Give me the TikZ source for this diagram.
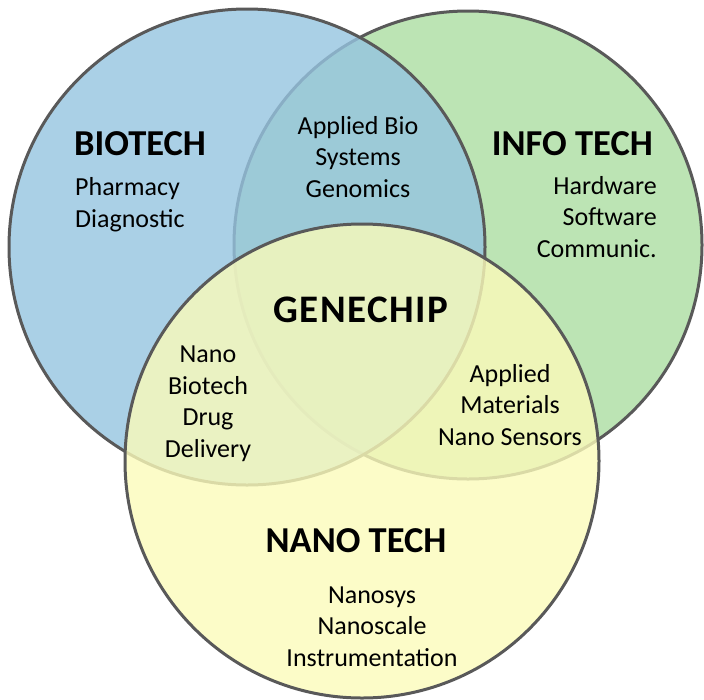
\documentclass[tikz,border=0pt]{standalone}
\usepackage{fontspec}
\setmainfont{Carlito}
\usepackage{xcolor}

\definecolor{ringgray}{RGB}{89,89,89}
\definecolor{biofill}{RGB}{149,196,224}
\definecolor{infofill}{RGB}{171,221,161}
\definecolor{nanofill}{RGB}{251,251,186}

\tikzset{
  venn/.style={draw=ringgray, line width=3pt, fill opacity=0.8, draw opacity=1},
  field/.style={font=\bfseries\fontsize{36.5}{40}\selectfont, inner sep=0pt, anchor=base},
  % multi-line items: the base anchor sits on the last line
  item/.style={font=\fontsize{26}{31.5}\selectfont, inner sep=0pt, align=center, anchor=base},
}

\begin{document}
\begin{tikzpicture}[x=1pt, y=-1pt]
  \useasboundingbox (0,0) rectangle (704,699);
  % Circles, back to front
  \draw[venn, fill=infofill] (468,245) circle[radius=234pt];
  \draw[venn, fill=biofill] (247,247) circle[radius=238pt];
  \draw[venn, fill=nanofill] (362,461) circle[radius=237pt];
  % Field names
  \node[field, anchor=base west] (bio) at (74,155) {BIOTECH};
  \node[field, anchor=base east] (info) at (653,155) {INFO TECH};
  \node[field] (nano) at (356,552) {NANO TECH};
  \node[field, font=\bfseries\fontsize{39}{44}\selectfont\addfontfeature{LetterSpace=4}] (chip) at (361,322) {GENECHIP};
  % Items in each region
  \node[item, align=left, anchor=base west] (bioitems) at (75,227) {Pharmacy\\Diagnostic};
  \node[item, align=right, anchor=base east] (infoitems) at (657,257) {Hardware\\Software\\Communic.};
  \node[item] (nanoitems) at (372,666) {Nanosys\\Nanoscale\\Instrumentation};
  \node[item] (bioinfo) at (358,197) {Applied Bio\\Systems\\Genomics};
  \node[item] (bionano) at (208,457) {Nano\\Biotech\\Drug\\Delivery};
  \node[item] (infonano) at (510,445) {Applied\\Materials\\Nano Sensors};
\end{tikzpicture}
\end{document}
